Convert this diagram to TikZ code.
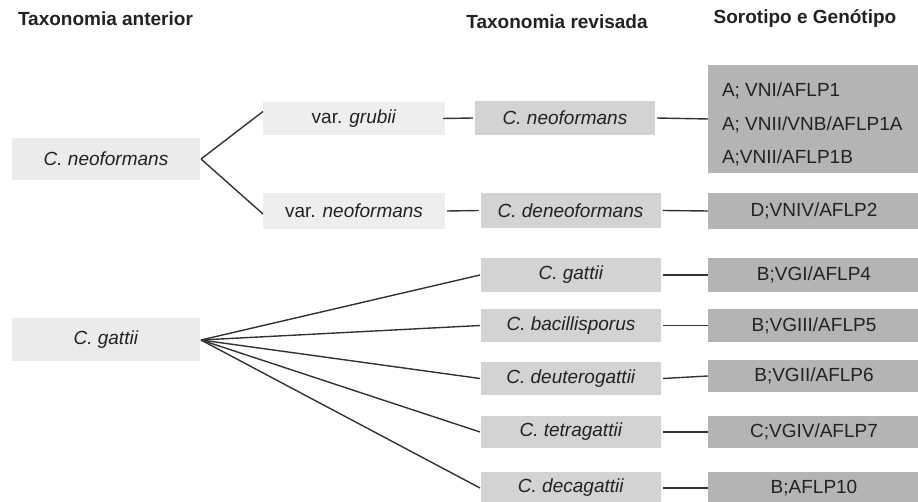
\documentclass[tikz,border=0pt]{standalone}
\usepackage{fontspec}
\setmainfont{Liberation Sans}
\definecolor{boxA}{HTML}{EBEBEB}
\definecolor{boxB}{HTML}{EEEEEE}
\definecolor{boxC}{HTML}{D3D3D3}
\definecolor{boxD}{HTML}{B4B4B4}
\definecolor{txt}{HTML}{222222}
\definecolor{ln}{HTML}{333333}
\begin{document}
\begin{tikzpicture}[x=1pt,y=-1pt,
  every node/.style={font=\fontsize{19}{23}\selectfont, text=txt, inner sep=0pt, outer sep=0pt},
  hdr/.style={font=\fontsize{19}{23}\selectfont\bfseries},
  oldbox/.style={fill=boxA, minimum width=188pt, minimum height=42pt},
  varbox/.style={fill=boxB, minimum width=182pt},
  revbox/.style={fill=boxC, minimum width=180pt},
  genbox/.style={fill=boxD, minimum width=212pt},
  conn/.style={draw=ln, line width=1.4pt}]
\useasboundingbox (0,0) rectangle (918,502);
% headers
\node[hdr, anchor=west] (h1) at (18,19) {Taxonomia anterior};
\node[hdr] (h2) at (557,22) {Taxonomia revisada};
\node[hdr] (h3) at (805,19) {Sorotipo e Genótipo};
% old taxonomy
\node[oldbox] (L1) at (106,159) {\textit{C. neoformans}};
\node[oldbox, minimum height=43pt] (L2) at (106,340) {\textit{C. gattii}};
% varieties
\node[varbox, minimum height=33pt] (V1) at (354,118.5) {var. \textit{grubii}};
\node[varbox, minimum height=36pt] (V2) at (354,211) {var. \textit{neoformans}};
% revised
\node[revbox, minimum height=34pt] (R1) at (565,118) {\textit{C. neoformans}};
\node[revbox, minimum height=35pt] (R2) at (570.5,210.5) {\textit{C. deneoformans}};
\node[revbox, minimum height=34pt] (G1) at (571,275) {\textit{C. gattii}};
\node[revbox, minimum height=33pt] (G2) at (571,325.5) {\textit{C. bacillisporus}};
\node[revbox, minimum height=33pt] (G3) at (571,378.5) {\textit{C. deuterogattii}};
\node[revbox, minimum height=32pt] (G4) at (571,432) {\textit{C. tetragattii}};
\node[revbox, minimum height=32pt] (G5) at (571,488) {\textit{C. decagattii}};
% serotype / genotype
\node[genbox, minimum height=108pt] (S1) at (814,119) {};
\node[anchor=west] (S1a) at (722,91) {A; VNI/AFLP1};
\node[anchor=west] (S1b) at (722,125) {A; VNII/VNB/AFLP1A};
\node[anchor=west] (S1c) at (722,158) {A;VNII/AFLP1B};
\node[genbox, minimum height=36pt] (S2) at (814,211) {D;VNIV/AFLP2};
\node[genbox, minimum height=34pt] (S3) at (814,275) {B;VGI/AFLP4};
\node[genbox, minimum height=33pt] (S4) at (814,325.5) {B;VGIII/AFLP5};
\node[genbox, minimum height=32pt] (S5) at (814,376) {B;VGII/AFLP6};
\node[genbox, minimum height=32pt] (S6) at (814,432) {C;VGIV/AFLP7};
\node[genbox, minimum height=32pt] (S7) at (814,488) {B;AFLP10};
% connectors
\draw[conn] ([xshift=1pt]L1.east) -- ([yshift=7pt]V1.west);
\draw[conn] ([xshift=1pt]L1.east) -- ([yshift=-3pt]V2.west);
\draw[conn] ([xshift=-2pt]V1.east) -- ([xshift=-2pt]R1.west);
\draw[conn] ([xshift=2pt]V2.east) -- ([xshift=-2pt]R2.west);
\draw[conn] ([xshift=2pt]R1.east) -- (S1.west);
\draw[conn] ([xshift=2pt]R2.east) -- (S2.west);
\foreach \g in {G1,G2,G3,G4,G5}{
  \draw[conn] ([xshift=1pt]L2.east) -- ([xshift=-1pt]\g.west);
}
\draw[conn] ([xshift=2pt]G1.east) -- (S3.west);
\draw[conn] ([xshift=2pt]G2.east) -- (S4.west);
\draw[conn] ([xshift=2pt]G3.east) -- (S5.west);
\draw[conn] ([xshift=2pt]G4.east) -- (S6.west);
\draw[conn] ([xshift=2pt]G5.east) -- (S7.west);
\end{tikzpicture}
\end{document}
